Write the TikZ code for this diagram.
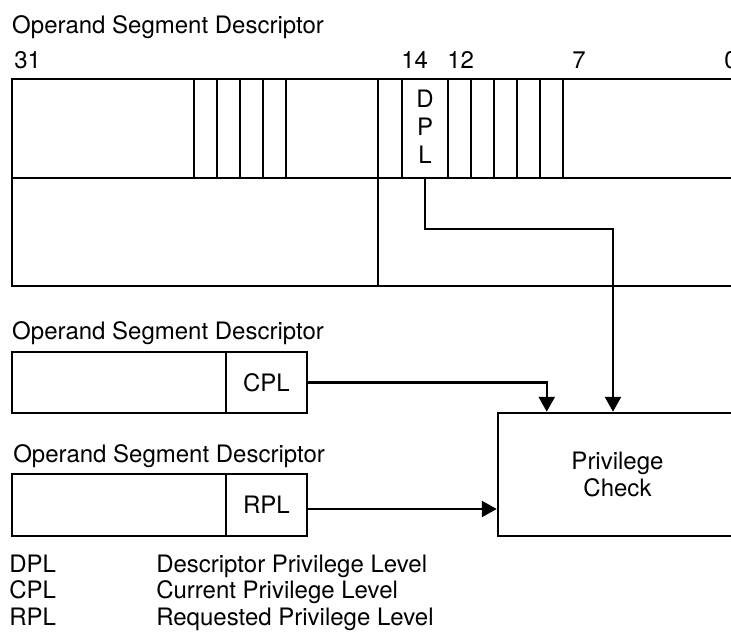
\documentclass[tikz,border=0pt]{standalone}
\usepackage{fontspec}
\setmainfont{TeX Gyre Heros}
\usetikzlibrary{arrows.meta}

\begin{document}
\begin{tikzpicture}[x=1pt,y=-1pt,line width=2.5pt,
  field/.style={draw, rectangle, inner sep=0pt, font=\fontsize{24}{27}\selectfont},
  lbl/.style={anchor=base west, inner sep=0pt, font=\fontsize{24}{27}\selectfont},
  bitno/.style={anchor=base west, inner sep=0pt, font=\fontsize{24}{27}\selectfont},
  arr/.style={-{Triangle[length=15pt,width=16pt]}}]
 \clip (0,0) rectangle (731,632);

 % segment descriptor with DPL field
 \node[lbl] (desc) at (11,33) {Operand Segment Descriptor};
 \node[bitno] (b31) at (13,68) {31};
 \node[bitno] (b14) at (400,68) {14};
 \node[bitno] (b12) at (446,68) {12};
 \node[bitno] (b7) at (571,68) {7};
 \node[bitno] (b0) at (723,68) {0};

 \draw (12,79) rectangle (745,178);
 \draw (12,178) rectangle (745,286);
 \foreach \x in {194,217,240,263,286,378,402,448,471,494,517,540,563}
   \draw (\x,79) -- (\x,178);
 \draw (378,178) -- (378,286);
 \node[align=center, inner sep=0pt, font=\fontsize{24}{28}\selectfont] (dpl) at (425,126.5) {D\\P\\L};

 % CPL and RPL descriptors
 \node[lbl] (cpldesc) at (11,339) {Operand Segment Descriptor};
 \node[field, minimum width=214pt, minimum height=61pt] (cplrest) at (119,382.5) {};
 \node[field, minimum width=81pt, minimum height=61pt] (cpl) at (266.5,382.5) {CPL};

 \node[lbl] (rpldesc) at (12,462) {Operand Segment Descriptor};
 \node[field, minimum width=214pt, minimum height=62pt] (rplrest) at (119,505) {};
 \node[field, minimum width=81pt, minimum height=62pt] (rpl) at (266.5,505) {RPL};

 \node[field, minimum width=239pt, minimum height=123pt, align=center] (check) at (617.5,474.5) {Privilege\\Check};

 % connectors
 \coordinate (dplout) at (425,178);
 \coordinate (dplbend) at (613,229);
 \draw[arr] (dplout) |- (dplbend) -- (dplbend |- check.north);
 \draw[arr] (cpl.east) -| ([xshift=50pt]check.north west);
 \draw[arr] ([yshift=-4pt]rpl.east) -- ([yshift=-4pt]rpl.east -| check.west);

 % legend
 \node[lbl] (kd) at (8,572) {DPL};
 \node[lbl] (kc) at (8,598) {CPL};
 \node[lbl] (kr) at (8,625) {RPL};
 \node[lbl] (td) at (155,572) {Descriptor Privilege Level};
 \node[lbl] (tc) at (155,598) {Current Privilege Level};
 \node[lbl] (tr) at (155,625) {Requested Privilege Level};
\end{tikzpicture}
\end{document}
